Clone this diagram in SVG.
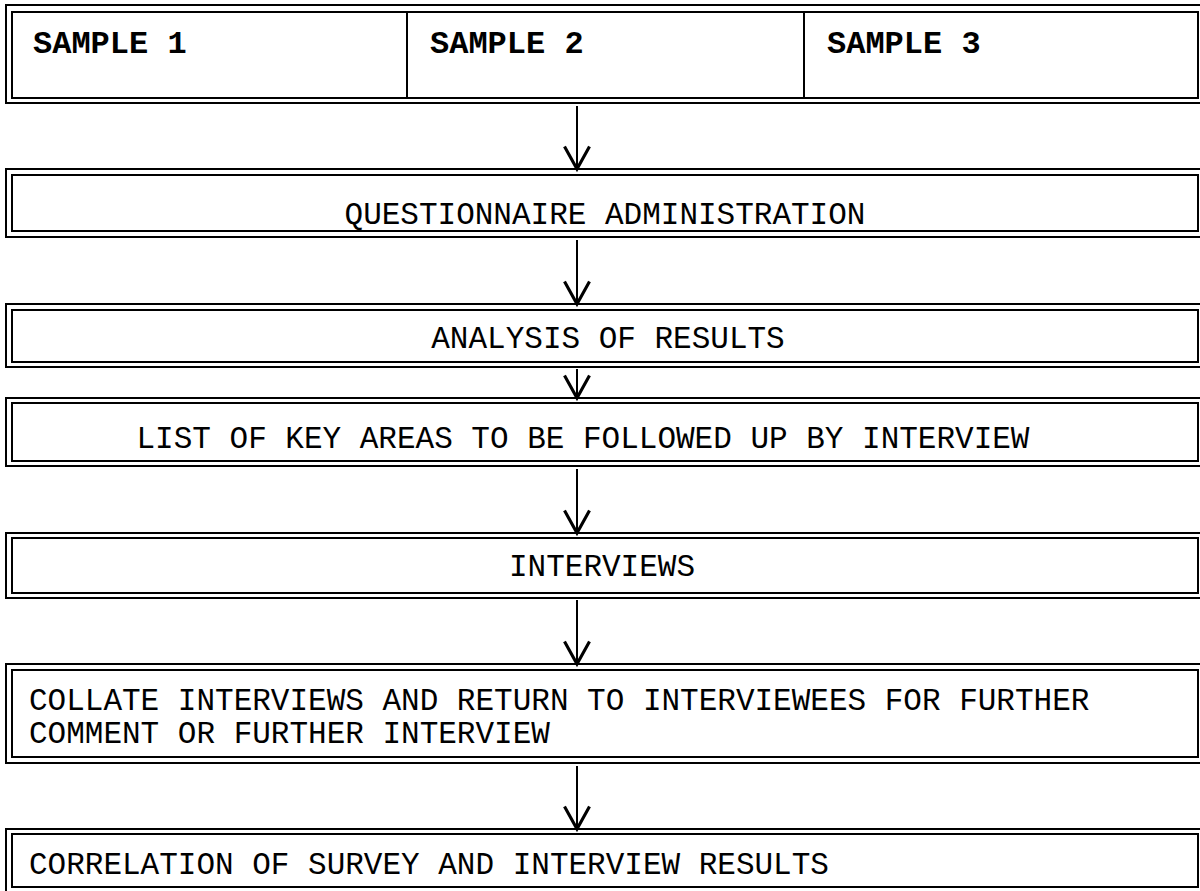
<svg xmlns="http://www.w3.org/2000/svg" width="1200" height="891" viewBox="0 0 1200 891">
<style>
.o{fill:none;stroke:#000;stroke-width:2}
.i{fill:#fff;stroke:#000;stroke-width:2}
.t{font-family:"Liberation Mono","Courier New",monospace;font-size:31px;fill:#000}
.b{font-weight:bold;font-size:32px}
.c{text-anchor:middle}
.a{stroke:#000;stroke-width:2;fill:none}
</style>
<defs>
<marker id="h" markerUnits="userSpaceOnUse" markerWidth="30" markerHeight="30" viewBox="-20 -12 22 24" refX="0" refY="0" orient="auto">
<path d="M-18,-10 L0,0 L-18,10" fill="none" stroke="#000" stroke-width="2.5"/>
</marker>
</defs>
<rect width="1200" height="891" fill="#fff"/>
<g id="samples">
<rect class="o" x="6" y="5" width="1200" height="98"/>
<rect class="i" x="12" y="12" width="1186" height="86"/>
<line class="a" x1="407" y1="12" x2="407" y2="98"/>
<line class="a" x1="804" y1="12" x2="804" y2="98"/>
<text class="t b" x="33" y="53">SAMPLE 1</text>
<text class="t b" x="430" y="53">SAMPLE 2</text>
<text class="t b" x="827" y="53">SAMPLE 3</text>
</g>
<g id="questionnaire">
<rect class="o" x="6" y="169" width="1200" height="68"/>
<rect class="i" x="12" y="175" width="1186" height="56"/>
<text class="t c" x="605" y="224">QUESTIONNAIRE ADMINISTRATION</text>
</g>
<g id="analysis">
<rect class="o" x="6" y="304" width="1200" height="63"/>
<rect class="i" x="12" y="310" width="1186" height="52"/>
<text class="t c" x="608" y="348">ANALYSIS OF RESULTS</text>
</g>
<g id="keyareas">
<rect class="o" x="6" y="398" width="1200" height="68"/>
<rect class="i" x="12" y="403" width="1186" height="58"/>
<text class="t c" x="583" y="448">LIST OF KEY AREAS TO BE FOLLOWED UP BY INTERVIEW</text>
</g>
<g id="interviews">
<rect class="o" x="6" y="533" width="1200" height="65"/>
<rect class="i" x="12" y="538" width="1186" height="55"/>
<text class="t c" x="602" y="576">INTERVIEWS</text>
</g>
<g id="collate">
<rect class="o" x="6" y="664" width="1200" height="99"/>
<rect class="i" x="12" y="670" width="1186" height="87"/>
<text class="t" x="29" y="710">COLLATE INTERVIEWS AND RETURN TO INTERVIEWEES FOR FURTHER</text>
<text class="t" x="29" y="743">COMMENT OR FURTHER INTERVIEW</text>
</g>
<g id="correlation">
<rect class="o" x="6" y="829" width="1200" height="70"/>
<rect class="i" x="12" y="834" width="1186" height="53"/>
<text class="t" x="29" y="874">CORRELATION OF SURVEY AND INTERVIEW RESULTS</text>
</g>
<g id="connectors">
<line class="a" x1="577" y1="106" x2="577" y2="169" marker-end="url(#h)"/>
<line class="a" x1="577" y1="240" x2="577" y2="304" marker-end="url(#h)"/>
<line class="a" x1="577" y1="369" x2="577" y2="398" marker-end="url(#h)"/>
<line class="a" x1="577" y1="469" x2="577" y2="533" marker-end="url(#h)"/>
<line class="a" x1="577" y1="600" x2="577" y2="664" marker-end="url(#h)"/>
<line class="a" x1="577" y1="766" x2="577" y2="829" marker-end="url(#h)"/>
</g>
</svg>
